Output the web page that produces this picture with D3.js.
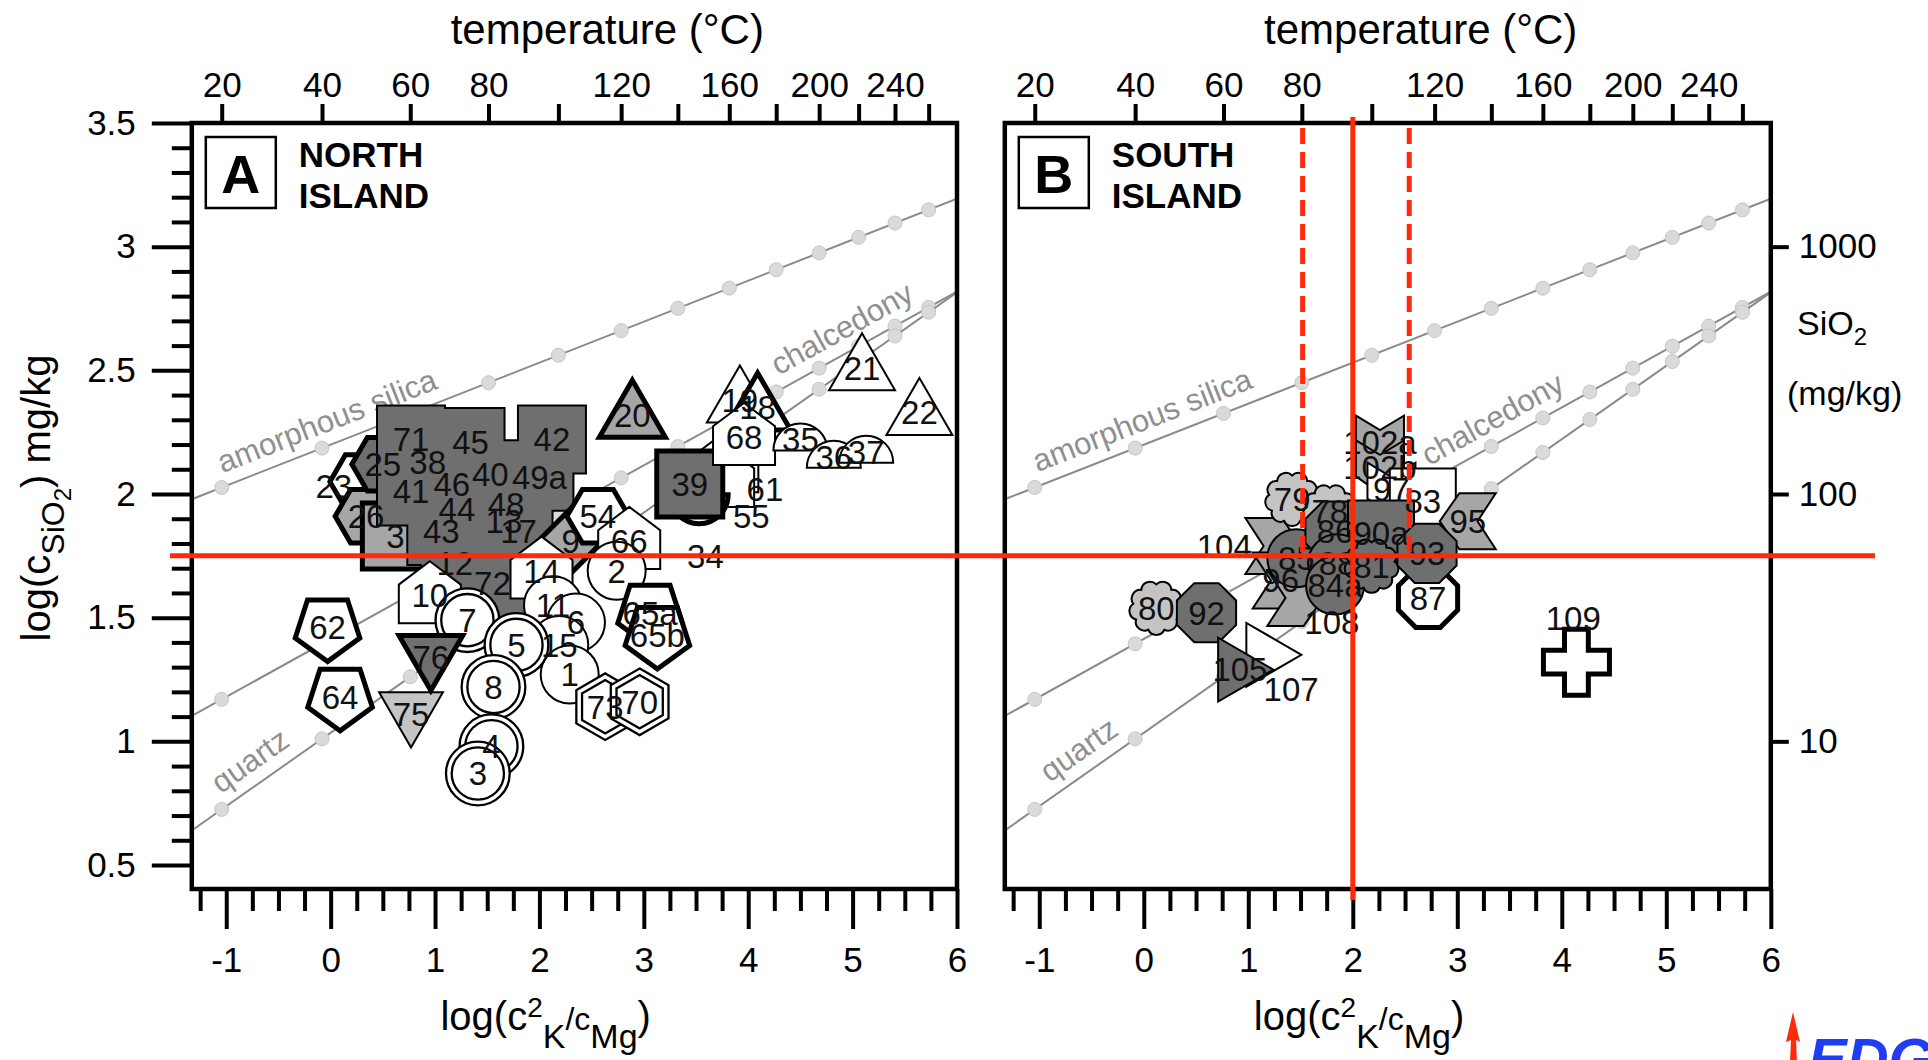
<!DOCTYPE html>
<html>
<head>
<meta charset="utf-8">
<script src="https://cdn.jsdelivr.net/npm/d3@7"></script>
<style>
  body { margin: 0; background: #fff; }
  svg { display: block; font-family: "Liberation Sans", Arial, Helvetica, sans-serif; }
  .lab { font-family: "Liberation Sans Narrow", "Arial Narrow", "Liberation Sans", Arial, sans-serif; }
</style>
</head>
<body>
<svg id="vis"></svg>
<script>
  // ---------------- data ----------------
  // top axis: temperature ticks (K-Mg geothermometer), only some are labelled
  const tempTicks = [20, 40, 60, 80, 100, 120, 140, 160, 180, 200, 220, 240, 260];
  const tempLabels = [20, 40, 60, 80, 120, 160, 200, 240];
  const xTicks = [-1, 0, 1, 2, 3, 4, 5, 6];
  const yTicks = [0.5, 1, 1.5, 2, 2.5, 3, 3.5];
  const silicaTicks = [10, 100, 1000];

  // silica geothermometers: T = a / (b - log SiO2) - 273.15
  const curveNames = ["amorphous silica", "chalcedony", "quartz"];
  const curveA = [731, 1032, 1309];
  const curveB = [4.52, 4.69, 5.19];
  // where each curve label starts (log(c2K/cMg)) in panel A and B
  const curveLabelStartA = [-0.99, 4.35, -0.98];
  const curveLabelStartB = [-0.97, 2.79, -0.83];

  // North Island springs
  const northLabel = ["23","26","3","25",
    "71","45","42","38","40","49a","41","46","44","48","43","13","17","12","72",
    "9","54","66","2","14","10","11","6","15","1","7","5","8","4","3","73","70",
    "65a","65b","62","64","75","76","20","61","55","34","39","19","18","68",
    "35","36","37","21","22"];
  const northX = [0.29, 0.34, 0.62, 0.50,
    0.77, 1.34, 2.12, 0.93, 1.53, 2.00, 0.77, 1.16, 1.21, 1.68, 1.06, 1.66, 1.80, 1.19, 1.55,
    2.30, 2.56, 2.86, 2.74, 2.02, 0.95, 2.13, 2.35, 2.19, 2.29, 1.31, 1.78, 1.56, 1.54, 1.41, 2.63, 2.96,
    3.06, 3.13, -0.03, 0.09, 0.77, 0.96, 2.89, 3.80, 3.76, 3.53, 3.44, 3.92, 4.09, 3.96,
    4.50, 4.82, 5.13, 5.09, 5.64];
  const northY = [2.05, 1.91, 1.83, 2.12,
    2.22, 2.21, 2.22, 2.13, 2.08, 2.07, 2.01, 2.04, 1.94, 1.96, 1.85, 1.89, 1.85, 1.72, 1.64,
    1.81, 1.91, 1.81, 1.69, 1.69, 1.59, 1.55, 1.48, 1.39, 1.27, 1.49, 1.39, 1.22, 0.98, 0.87, 1.14, 1.16,
    1.52, 1.43, 1.46, 1.18, 1.11, 1.34, 2.32, 2.12, 2.06, 1.95, 2.04, 2.38, 2.35, 2.23,
    2.22, 2.15, 2.17, 2.51, 2.33];
  const northShape = ["hexFlat","hexFlat","square","hexFlat",
    "square","square","square","square","square","square","square","square","square","square","square","square","square","square","square",
    "diamond","hexFlat","house","circle","house","house","circle","circle","circle","circle","circle","circle","circle","circle","circle","hexagon","hexagon",
    "pentDown","pentDown","pentDown","pentDown","triDown","triDown","triUp","house","house","bowl","square","triUp","triUp","house",
    "dome","dome","dome","triUp","triUp"];
  const northTone = ["white","mid","mid","dark",
    "dark","dark","dark","dark","dark","dark","dark","dark","dark","dark","dark","dark","dark","dark","dark",
    "mid","white","white","white","white","white","white","white","white","white","white","white","white","white","white","white","white",
    "white","white","white","white","light","dark","mid","white","white","white","dark","white","white","white",
    "white","white","white","white","white"];
  const northEdge = ["thick","thick","thick","thick",
    "blob","blob","blob","blob","blob","blob","blob","blob","blob","blob","blob","blob","blob","blob","blob",
    "thick","thick","thin","thin","thin","thin","thin","thin","thin","thin","double","double","double","double","double","double","double",
    "thick","thick","thick","thick","thin","thick","thick","thin","thin","thick","thick","thin","thick","thin",
    "thin","thin","thin","thin","thin"];
  const northLabelAt = {"23": [0.03, 2.03], "34": [3.59, 1.75], "61": [4.16, 2.02], "55": [4.03, 1.91]};

  // South Island springs
  const southLabel = ["80","92","107","105","104","96","108","79","78","102a","102b","97","83","95",
    "85","86","90a","88","84a","81","87","93","109"];
  const southX = [0.12, 0.60, 1.19, 0.92, 1.24, 1.31, 1.45, 1.42, 1.78, 2.26, 2.26, 2.37, 2.67, 3.10,
    1.46, 1.83, 2.27, 1.85, 1.83, 2.18, 2.72, 2.71, 4.14];
  const southY = [1.54, 1.52, 1.35, 1.29, 1.79, 1.65, 1.58, 1.98, 1.93, 2.21, 2.11, 2.02, 1.97, 1.89,
    1.74, 1.85, 1.84, 1.72, 1.63, 1.71, 1.58, 1.76, 1.32];
  const southShape = ["cloud","octagon","triRight","triRight","chevR","chevR","chevR","cloud","cloud","chevD","chevD","chevD","square","chevL",
    "circle","octagon","square","circle","circle","cloud","octagon","octagon","cross"];
  const southTone = ["light","dark","white","dark","mid","mid","mid","light","light","mid","mid","white","white","mid",
    "dark","dark","dark","dark","dark","dark","white","dark","white"];
  const southEdge = ["thin","thin","thin","thin","thin","thin","thin","thin","thin","thin","thin","thin","thin","thin",
    "thin","thin","thin","thin","thin","thin","thick","thin","thick"];
  const southLabelAt = {"104": [0.77, 1.79], "107": [1.41, 1.21], "108": [1.80, 1.48], "109": [4.11, 1.50]};

  // red guide lines
  const redY = 1.75, redX = 2.0, redBand = [1.52, 2.54];

  // ---------------- setup ----------------
  const W = 1928, H = 1060;
  const svg = d3.select("#vis").attr("width", W).attr("height", H);
  svg.append("rect").attr("width", W).attr("height", H).attr("fill", "#fff");

  const y = d3.scaleLinear().domain([0.403, 3.5]).range([889, 123]);
  const xA = d3.scaleLinear().domain([-1.33, 6]).range([191.8, 957]);
  const xB = d3.scaleLinear().domain([-1.33, 6]).range([1004.8, 1770.8]);
  const ySilica = d3.scaleLog().domain([Math.pow(10, 0.403), Math.pow(10, 3.5)]).range([889, 123]);

  const tones = {dark: "#6f6f6f", mid: "#a6a6a6", light: "#c4c4c4", white: "#ffffff"};
  const edgeWidth = {thin: 2, thick: 5};
  const shapeSize = {square: 33, circle: 29, triUp: 30, triDown: 29, triRight: 29, diamond: 27, pentDown: 34,
    house: 31, hexagon: 30, hexFlat: 31, octagon: 32, cloud: 30, dome: 27, bowl: 29, cross: 33,
    chevR: 28, chevL: 28, chevD: 24};
  const red = "#ff2a0a";

  function kmg(T) { return 14 - 4410 / (T + 273.15); }            // log(c2K/cMg) at T
  function silica(i, x) { return curveB[i] - curveA[i] * (14 - x) / 4410; }  // log SiO2 on curve i

  function ring(n, r, a0) {
    return d3.range(n).map(k => {
      const a = (a0 + k * 360 / n) * Math.PI / 180;
      return [r * Math.cos(a), r * Math.sin(a)];
    });
  }
  function poly(pts) { return "M" + pts.map(p => p[0].toFixed(1) + "," + p[1].toFixed(1)).join("L") + "Z"; }

  function shapePath(kind, r) {
    switch (kind) {
      case "square": return poly([[-r, -r], [r, -r], [r, r], [-r, r]]);
      case "circle": return `M${r},0A${r},${r} 0 1,1 ${-r},0A${r},${r} 0 1,1 ${r},0Z`;
      case "triUp": return poly([[0, -1.15 * r], [1.1 * r, 0.75 * r], [-1.1 * r, 0.75 * r]]);
      case "triDown": return poly([[0, 1.15 * r], [1.1 * r, -0.75 * r], [-1.1 * r, -0.75 * r]]);
      case "triRight": return poly([[1.15 * r, 0], [-0.75 * r, -1.1 * r], [-0.75 * r, 1.1 * r]]);
      case "diamond": return poly([[0, -1.2 * r], [1.2 * r, 0], [0, 1.2 * r], [-1.2 * r, 0]]);
      case "pentDown": return poly(ring(5, r, 90));
      case "house": return poly([[0, -1.1 * r], [r, -0.35 * r], [r, 0.9 * r], [-r, 0.9 * r], [-r, -0.35 * r]]);
      case "hexagon": return poly(ring(6, r, -90));
      case "hexFlat": return poly(ring(6, r, 0));
      case "octagon": return poly(ring(8, r, 22.5));
      case "dome": return `M${-r},${0.4 * r}A${r},${r} 0 0,1 ${r},${0.4 * r}Z`;
      case "bowl": return `M${-r},${-0.4 * r}A${r},${r} 0 0,0 ${r},${-0.4 * r}Z`;
      case "cross": {
        const a = 0.36 * r;
        return poly([[-a, -r], [a, -r], [a, -a], [r, -a], [r, a], [a, a], [a, r], [-a, r], [-a, a], [-r, a], [-r, -a], [-a, -a]]);
      }
      case "chevR": return poly([[-r, -r], [0.3 * r, -r], [r, 0], [0.3 * r, r], [-r, r], [-0.35 * r, 0]]);
      case "chevL": return poly([[r, -r], [-0.3 * r, -r], [-r, 0], [-0.3 * r, r], [r, r], [0.35 * r, 0]]);
      case "chevD": return poly([[-r, -1.1 * r], [0, -0.5 * r], [r, -1.1 * r], [r, 0.4 * r], [0, 1.1 * r], [-r, 0.4 * r]]);
      case "cloud": {
        const n = 9, R = 0.78 * r, pts = ring(n, R, -90);
        const br = 2 * R * Math.sin(Math.PI / n) * 0.55;
        let s = "M" + pts[0].join(",");
        for (let k = 1; k <= n; k++) s += `A${br},${br} 0 0,1 ${pts[k % n].join(",")}`;
        return s + "Z";
      }
    }
  }

  function styleAxis(sel, size) {
    sel.attr("font-family", null).attr("font-size", null);
    sel.select(".domain").remove();
    sel.selectAll("line").attr("stroke", "#000").attr("stroke-width", 4);
    sel.selectAll("text").attr("font-size", size).attr("fill", "#000");
  }

  // ---------------- panels ----------------
  function drawPanel(xs, p) {
    const g = svg.append("g");
    const [x0, x1] = xs.range();
    const yTop = y.range()[1], yBot = y.range()[0];

    const clipId = "clip" + p.letter;
    svg.append("clipPath").attr("id", clipId).append("rect")
      .attr("x", x0).attr("y", yTop).attr("width", x1 - x0).attr("height", yBot - yTop);
    const plot = g.append("g").attr("clip-path", `url(#${clipId})`);

    // geothermometer curves with 20 degC dots
    curveNames.forEach((name, i) => {
      plot.append("path").datum(xs.domain())
        .attr("d", d3.line().x(d => xs(d)).y(d => y(silica(i, d))))
        .attr("fill", "none").attr("stroke", "#8a8a8a").attr("stroke-width", 2);
      plot.selectAll(null).data(tempTicks).join("circle")
        .attr("cx", T => xs(kmg(T))).attr("cy", T => y(silica(i, kmg(T))))
        .attr("r", 7).attr("fill", "#dadada").attr("stroke", "#c6c6c6").attr("stroke-width", 1);
      const s0 = p.curveStart[i];
      const q0 = [xs(s0), y(silica(i, s0))], q1 = [xs(s0 + 1), y(silica(i, s0 + 1))];
      const ang = Math.atan2(q1[1] - q0[1], q1[0] - q0[0]) * 180 / Math.PI;
      plot.append("text")
        .attr("transform", `translate(${q0[0]},${q0[1]}) rotate(${ang})`)
        .attr("dy", -13).attr("font-size", 31).attr("fill", "#8f8f8f")
        .text(name);
    });

    // markers
    let blobStroke = null, blobFill = null;
    p.labels.forEach((lab, i) => {
      const d = shapePath(p.shape[i], shapeSize[p.shape[i]]);
      const t = `translate(${xs(p.x[i])},${y(p.y[i])})`;
      const fill = tones[p.tone[i]];
      if (p.edge[i] === "blob") {
        if (!blobStroke) { blobStroke = plot.append("g"); blobFill = plot.append("g"); }
        blobStroke.append("path").attr("d", d).attr("transform", t).attr("fill", fill)
          .attr("stroke", "#000").attr("stroke-width", 4);
        blobFill.append("path").attr("d", d).attr("transform", t).attr("fill", fill);
      } else if (p.edge[i] === "double") {
        plot.append("path").attr("d", d).attr("transform", t).attr("fill", fill)
          .attr("stroke", "#000").attr("stroke-width", 8);
        plot.append("path").attr("d", d).attr("transform", t).attr("fill", "none")
          .attr("stroke", "#fff").attr("stroke-width", 3.4);
      } else {
        plot.append("path").attr("d", d).attr("transform", t).attr("fill", fill)
          .attr("stroke", "#000").attr("stroke-width", edgeWidth[p.edge[i]])
          .attr("stroke-linejoin", "miter");
      }
    });

    // marker labels on top
    plot.selectAll("text.lab").data(p.labels).join("text")
      .attr("class", "lab")
      .attr("x", (lab, i) => xs(p.labelAt[lab] ? p.labelAt[lab][0] : p.x[i]))
      .attr("y", (lab, i) => y(p.labelAt[lab] ? p.labelAt[lab][1] : p.y[i]))
      .attr("dy", "0.36em").attr("text-anchor", "middle")
      .attr("font-size", 33).attr("fill", "#111")
      .text(d => d);

    // frame
    g.append("rect").attr("x", x0).attr("y", yTop).attr("width", x1 - x0).attr("height", yBot - yTop)
      .attr("fill", "none").attr("stroke", "#000").attr("stroke-width", 4.5);

    // top temperature axis
    const top = g.append("g").attr("transform", `translate(0,${yTop})`)
      .call(d3.axisTop(xs).tickValues(tempTicks.map(kmg)).tickSize(19).tickPadding(7)
        .tickFormat((d, i) => tempLabels.includes(tempTicks[i]) ? tempTicks[i] : ""));
    styleAxis(top, 35);

    // bottom axis with minor ticks
    const minorX = d3.range(-1.25, 6.01, 0.25).filter(v => Math.abs(v - Math.round(v)) > 0.01);
    const botMinor = g.append("g").attr("transform", `translate(0,${yBot})`)
      .call(d3.axisBottom(xs).tickValues(minorX).tickSize(22).tickFormat(""));
    styleAxis(botMinor, 35);
    const bot = g.append("g").attr("transform", `translate(0,${yBot})`)
      .call(d3.axisBottom(xs).tickValues(xTicks).tickSize(40).tickPadding(18).tickFormat(d => String(d)));
    styleAxis(bot, 35);

    if (p.leftAxis) {
      const minorY = d3.range(0.5, 3.51, 0.1).filter(v => Math.abs(v * 2 - Math.round(v * 2)) > 0.01);
      const lm = g.append("g").attr("transform", `translate(${x0},0)`)
        .call(d3.axisLeft(y).tickValues(minorY).tickSize(20).tickFormat(""));
      styleAxis(lm, 35);
      const la = g.append("g").attr("transform", `translate(${x0},0)`)
        .call(d3.axisLeft(y).tickValues(yTicks).tickSize(40).tickPadding(16).tickFormat(d => String(d)));
      styleAxis(la, 35);
    }
    if (p.rightAxis) {
      const ra = g.append("g").attr("transform", `translate(${x1},0)`)
        .call(d3.axisRight(ySilica).tickValues(silicaTicks).tickSize(18).tickPadding(10).tickFormat(d => String(d)));
      styleAxis(ra, 35);
    }

    // panel letter and name
    g.append("rect").attr("x", x0 + 14).attr("y", 137).attr("width", 70).attr("height", 71)
      .attr("fill", "#fff").attr("stroke", "#000").attr("stroke-width", 2.5);
    g.append("text").attr("x", x0 + 49).attr("y", 193).attr("text-anchor", "middle")
      .attr("font-size", 54).attr("font-weight", "bold").text(p.letter);
    p.name.forEach((line, k) => {
      g.append("text").attr("x", x0 + 107).attr("y", 167 + k * 41)
        .attr("font-size", 35).attr("font-weight", "bold").text(line);
    });

    // axis titles
    g.append("text").attr("x", xs(2.65)).attr("y", 44).attr("text-anchor", "middle")
      .attr("font-size", 42).text("temperature (°C)");
    const bt = g.append("text").attr("x", xs(2.06)).attr("y", 1030).attr("text-anchor", "middle")
      .attr("font-size", 40);
    bt.append("tspan").text("log(c");
    bt.append("tspan").attr("font-size", 28).attr("dy", -13).text("2");
    bt.append("tspan").attr("font-size", 34).attr("dy", 31).text("K");
    bt.append("tspan").attr("font-size", 32).attr("dy", -18).text("/c");
    bt.append("tspan").attr("font-size", 34).attr("dy", 18).text("Mg");
    bt.append("tspan").attr("dy", -18).text(")");
  }

  drawPanel(xA, {
    letter: "A", name: ["NORTH", "ISLAND"], labels: northLabel, x: northX, y: northY,
    shape: northShape, tone: northTone, edge: northEdge, labelAt: northLabelAt,
    curveStart: curveLabelStartA, leftAxis: true, rightAxis: false
  });
  drawPanel(xB, {
    letter: "B", name: ["SOUTH", "ISLAND"], labels: southLabel, x: southX, y: southY,
    shape: southShape, tone: southTone, edge: southEdge, labelAt: southLabelAt,
    curveStart: curveLabelStartB, leftAxis: false, rightAxis: true
  });

  // left y title
  const lt = svg.append("text").attr("transform", "translate(50,498) rotate(-90)")
    .attr("text-anchor", "middle").attr("font-size", 40);
  lt.append("tspan").text("log(c");
  lt.append("tspan").attr("font-size", 32).attr("dy", 14).text("SiO");
  lt.append("tspan").attr("font-size", 24).attr("dy", 7).text("2");
  lt.append("tspan").attr("dy", -21).text(") mg/kg");

  // right secondary title
  const rt = svg.append("text").attr("x", 1797).attr("y", 335).attr("font-size", 34);
  rt.append("tspan").text("SiO");
  rt.append("tspan").attr("font-size", 24).attr("dy", 10).text("2");
  svg.append("text").attr("x", 1787).attr("y", 405).attr("font-size", 34).text("(mg/kg)");

  // red guide lines
  svg.append("line").attr("x1", 170).attr("x2", 1875).attr("y1", y(redY)).attr("y2", y(redY))
    .attr("stroke", red).attr("stroke-width", 5);
  svg.append("line").attr("x1", xB(redX)).attr("x2", xB(redX)).attr("y1", 117).attr("y2", 900)
    .attr("stroke", red).attr("stroke-width", 5);
  redBand.forEach(v => {
    svg.append("line").attr("x1", xB(v)).attr("x2", xB(v)).attr("y1", 128).attr("y2", y(redY))
      .attr("stroke", red).attr("stroke-width", 5).attr("stroke-dasharray", "16,8");
  });

  // corner logo
  svg.append("path").attr("d", "M1793,1012L1800,1042L1796,1040L1797,1062L1790,1062L1791,1040L1786,1042Z")
    .attr("fill", red);
  svg.append("text").attr("x", 1808).attr("y", 1079).attr("font-size", 58)
    .attr("font-weight", "bold").attr("font-style", "italic").attr("fill", "#1f3df5").text("EDG");
</script>
</body>
</html>
